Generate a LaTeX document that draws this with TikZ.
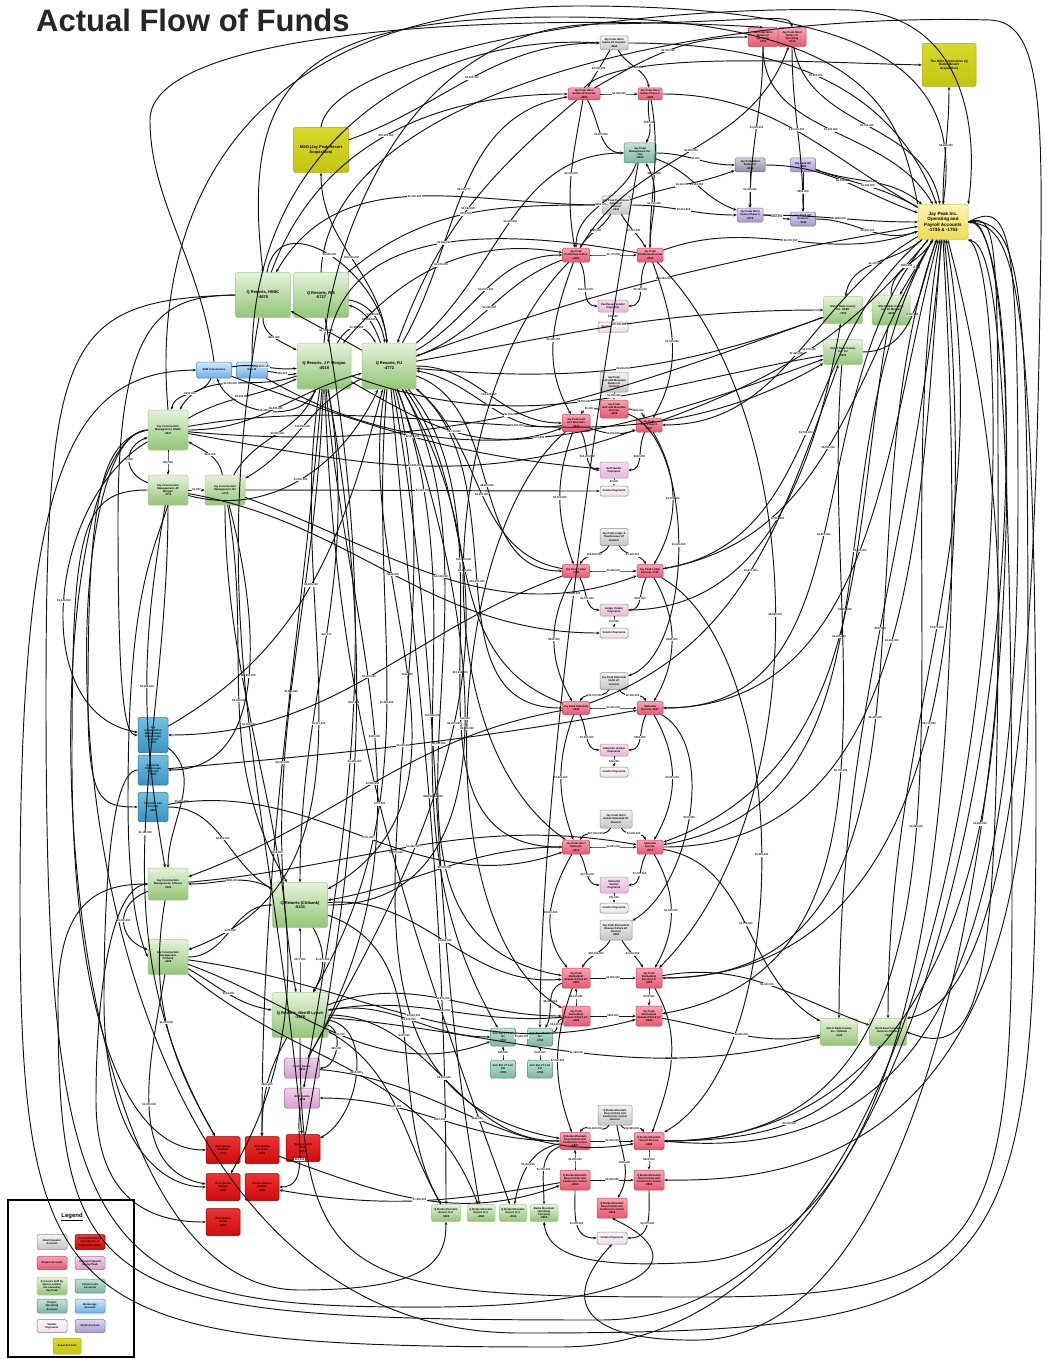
\documentclass[tikz,border=0pt]{standalone}
\usepackage{fontspec}
\setmainfont{Liberation Sans}
\usetikzlibrary{arrows.meta}
\definecolor{gT}{HTML}{E4F2DA}\definecolor{gB}{HTML}{93C576}\definecolor{gD}{HTML}{A8C896}
\definecolor{yT}{HTML}{D8D82C}\definecolor{yB}{HTML}{C4C414}\definecolor{yD}{HTML}{A8A820}
\definecolor{jT}{HTML}{FBF4B4}\definecolor{jB}{HTML}{EFDB52}\definecolor{jD}{HTML}{D8C850}
\definecolor{pT}{HTML}{F7A4B4}\definecolor{pB}{HTML}{E9566F}\definecolor{pD}{HTML}{C04058}
\definecolor{lpT}{HTML}{F6DDF0}\definecolor{lpB}{HTML}{E6B8DC}\definecolor{lpD}{HTML}{B088A8}
\definecolor{vT}{HTML}{FBF6FB}\definecolor{vB}{HTML}{EDE0EE}\definecolor{vD}{HTML}{8A7A8A}
\definecolor{grT}{HTML}{F2F2F2}\definecolor{grB}{HTML}{C6C6C6}\definecolor{grD}{HTML}{909090}
\definecolor{puT}{HTML}{DED6F0}\definecolor{puB}{HTML}{A898D0}\definecolor{puD}{HTML}{7E70A8}
\definecolor{pgT}{HTML}{D0D0DA}\definecolor{pgB}{HTML}{8C8CA2}\definecolor{pgD}{HTML}{6C6C80}
\definecolor{tT}{HTML}{C4E2DA}\definecolor{tB}{HTML}{7DB6A6}\definecolor{tD}{HTML}{558C7C}
\definecolor{bT}{HTML}{D4E9FC}\definecolor{bB}{HTML}{6CAEEA}\definecolor{bD}{HTML}{4A88C8}
\definecolor{lbT}{HTML}{70C0E2}\definecolor{lbB}{HTML}{3A94C2}\definecolor{lbD}{HTML}{2A6C90}
\definecolor{rT}{HTML}{F03232}\definecolor{rB}{HTML}{D00A0A}\definecolor{rD}{HTML}{8C0000}
\definecolor{liT}{HTML}{EFD0EA}\definecolor{liB}{HTML}{D6A0CE}\definecolor{liD}{HTML}{A070A0}
\newcommand\flowE[6][]{\draw[flow,#1] (#2) to[out=#4,in=#5] node[lbl]{#6} (#3);}
\begin{document}
\begin{tikzpicture}[x=1pt,y=1pt,
 flow/.style={line width=0.95pt,black!92,-{Stealth[length=3.4pt,width=2.8pt]}},
 lbl/.style={font=\fontsize{2.7}{3}\selectfont\bfseries,fill=white,inner sep=0.4pt},
 bx/.style={rounded corners=1.5pt,align=center,inner sep=0.6pt,line width=0.5pt,font=\fontsize{2.7}{3.1}\selectfont\bfseries},
 big/.style={font=\fontsize{4}{4.8}\selectfont\bfseries},
 mid/.style={font=\fontsize{3.2}{3.8}\selectfont\bfseries},
 sz/.style 2 args={minimum width=#1pt,minimum height=#2pt},
 grn/.style={bx,top color=gT,bottom color=gB,draw=gD},
 yel/.style={bx,top color=yT,bottom color=yB,draw=yD},
 jpy/.style={bx,top color=jT,bottom color=jB,draw=jD},
 pnk/.style={bx,top color=pT,bottom color=pB,draw=pD},
 lpk/.style={bx,top color=lpT,bottom color=lpB,draw=lpD},
 vnd/.style={bx,top color=vT,bottom color=vB,draw=vD},
 gry/.style={bx,top color=grT,bottom color=grB,draw=grD},
 pur/.style={bx,top color=puT,bottom color=puB,draw=puD},
 pgr/.style={bx,top color=pgT,bottom color=pgB,draw=pgD},
 tea/.style={bx,top color=tT,bottom color=tB,draw=tD},
 blu/.style={bx,top color=bT,bottom color=bB,draw=bD},
 lbl2/.style={bx,top color=lbT,bottom color=lbB,draw=lbD},
 red/.style={bx,top color=rT,bottom color=rB,draw=rD},
 lil/.style={bx,top color=liT,bottom color=liB,draw=liD}]
\fill[white] (0,0) rectangle (1048,-1359);
\useasboundingbox (0,0) rectangle (1048,-1359);
\node[anchor=north west,inner sep=0pt,text=black!85,font=\fontsize{31}{33}\selectfont\bfseries] (title) at (36,-9) {Actual Flow of Funds};
% ---------- top-left green / yellow
\node[yel,big,sz={55}{45}] (mso) at (321,-150) {MSO (Jay Peak Resort\\Acquisition)};
\node[yel,mid,sz={54}{43}] (mine) at (949,-65) {The Mine Corporation (Q\\Burke Resort\\Acquisition)};
\node[jpy,font=\fontsize{4.6}{5.4}\selectfont\bfseries,sz={50}{35}] (jpi) at (943,-222) {Jay Peak Inc.\\Operating and\\Payroll Accounts\\-1735 \& -1753};
\node[grn,big,sz={55}{45}] (hsbc) at (263,-295) {Q Resorts, HSBC\\-4875};
\node[grn,big,sz={55}{45}] (rs) at (321,-295) {Q Resorts, R/S\\-5727};
\node[grn,big,sz={54}{46}] (jpm) at (324,-366) {Q Resorts, J P Morgan\\-4519};
\node[grn,big,sz={54}{46}] (rj) at (389,-366) {Q Resorts, RJ\\-4772};
\node[blu,sz={35}{16}] (bl1) at (214,-370) {SSM Conversions};
\node[blu,sz={31}{16}] (bl2) at (252,-370) {Raw M};
\node[grn,sz={40}{40}] (jc1) at (168,-430) {Jay Construction\\Management, HSBC\\-8837};
\node[grn,sz={40}{30}] (jc2) at (168,-490) {Jay Construction\\Management, JP\\Morgan\\-4776};
\node[grn,sz={40}{30}] (jc3) at (225,-490) {Jay Construction\\Management, RJ\\-1778};
\node[grn,sz={39}{27}] (vs1) at (843,-310) {GSI of Dade County\\Inc. HSBC\\-7920};
\node[grn,sz={38}{30}] (vs2) at (891,-310) {GSI of Dade County\\Inc. JP Morgan\\-4846};
\node[grn,sz={39}{25}] (vs3) at (843,-352) {GSI of Dade County\\Inc. RJ\\-3593};
% ---------- top project cluster
\node[gry,sz={28}{14}] (t1) at (614,-43) {Jay Peak Hotel\\Suites LP Investor\\-4243};
\node[pnk,sz={30}{19}] (t2) at (763,-37) {Jay Peak Hotel\\Suites LP\\Operating\\-8700};
\node[pnk,sz={28}{19}] (t3) at (792,-37) {Jay Peak Hotel\\Suites LP\\Operating\\-8718};
\node[pnk,sz={32}{12}] (t4) at (584,-94) {Jay Peak Hotel\\Suites LP Escrow\\-4403};
\node[pnk,sz={24}{12}] (t5) at (650,-94) {Jay Peak Hotel\\Suites Phase II\\-4408};
\node[tea,sz={32}{20}] (t6) at (640,-153) {Jay Peak\\Management Inc.\\-4xx\\-6001};
\node[pgr,sz={30}{14}] (t7) at (750,-165) {Jay Peak Hotel\\Suites LP\\-4719};
\node[pur,sz={25}{14}] (t8) at (803,-165) {Jay Peak GP\\-3394};
\node[gry,sz={28}{18}] (t9) at (616,-205) {Jay Peak Penthouse\\Suites LP\\Investor\\-2241};
\node[pur,sz={26}{14}] (t10) at (750,-215) {Jay Peak Hotel\\Suites Phase II\\-2176};
\node[pur,sz={25}{14}] (t11) at (803,-219) {Jay Peak GP\\Services\\-3311};
\node[pnk,sz={27}{14}] (t12) at (576,-255) {Jay Peak\\Penthouse Suites\\-8201};
\node[pnk,sz={26}{14}] (t13) at (650,-255) {Jay Peak\\Penthouse Escrow\\-8203};
\node[lpk,sz={30}{12}] (t14) at (613,-306) {Penthouse Vendor\\Payments};
\node[vnd,sz={30}{10}] (t15) at (613,-327) {Vendor Payments};
\node[gry,sz={28}{20}] (a0) at (614,-382) {Jay Peak\\Golf and Mountain\\Suites LP\\Investor};
\node[pnk,sz={28}{18}] (a1) at (614,-409) {Jay Peak\\Golf and Mountain\\Escrow\\-4428};
\node[pnk,sz={28}{17}] (a2) at (576,-423) {Jay Peak Golf\\and Mountain\\-9226};
\node[pnk,sz={26}{14}] (a3) at (649,-425) {Jay Peak\\Golf Phase II\\-9227};
\node[lpk,sz={28}{16}] (a4) at (614,-470) {Golf Vendor\\Payments};
\node[vnd,sz={28}{10}] (a5) at (614,-491) {Vendor Payments};
\node[gry,sz={28}{17}] (b0) at (614,-537) {Jay Peak Lodge \&\\Townhouses LP\\Investor};
\node[pnk,sz={27}{13}] (b1) at (576,-571) {Jay Peak Lodge\\-7730};
\node[pnk,sz={26}{13}] (b2) at (650,-571) {Jay Peak Lodge\\Escrow -7731};
\node[lpk,sz={28}{12}] (b3) at (614,-610) {Lodge Vendor\\Payments};
\node[vnd,sz={28}{10}] (b4) at (614,-633) {Vendor Payments};
\node[gry,sz={28}{17}] (c0) at (614,-681) {Jay Peak Stateside\\Hotel LP\\Investor};
\node[pnk,sz={27}{13}] (c1) at (576,-708) {Jay Peak Stateside\\-5546};
\node[pnk,sz={26}{13}] (c2) at (650,-708) {Stateside\\Escrow -5547};
\node[lpk,sz={28}{12}] (c3) at (614,-750) {Stateside Vendor\\Payments};
\node[vnd,sz={28}{10}] (c4) at (614,-772) {Vendor Payments};
\node[gry,sz={32}{18}] (d0) at (616,-819) {Jay Peak Hotel\\Suites Stateside LP\\Investor};
\node[pnk,sz={27}{14}] (d1) at (576,-847) {Jay Peak Hotel\\Stateside\\-6612};
\node[pnk,sz={26}{14}] (d2) at (650,-847) {Stateside\\Escrow\\-6613};
\node[lpk,sz={28}{16}] (d3) at (614,-885) {Stateside\\Vendor\\Payments};
\node[vnd,sz={28}{10}] (d4) at (614,-908) {Vendor Payments};
\node[gry,sz={32}{20}] (e0) at (616,-930) {Jay Peak Biomedical\\Research Park LP\\Investor\\-9281};
\node[pnk,sz={28}{20}] (e1) at (576,-978) {Jay Peak\\Biomedical\\Research Park LP\\-9282};
\node[pnk,sz={26}{20}] (e2) at (649,-978) {Jay Peak\\Biomedical\\Escrow LP\\-9283};
\node[pnk,sz={28}{20}] (e3) at (576,-1016) {Jay Peak\\Biomedical\\Research Park LP\\-9284};
\node[pnk,sz={26}{20}] (e4) at (649,-1016) {Jay Peak\\Biomedical\\Research Park LP\\-9285};
\node[tea,sz={25}{18}] (f1) at (503,-1037) {AnC Bio VT LLC\\RJ\\-0767};
\node[tea,sz={25}{18}] (f2) at (540,-1037) {AnC Bio VT LLC\\RJ\\-0768};
\node[tea,sz={25}{18}] (f3) at (503,-1069) {AnC Bio VT LLC\\Citi\\-0781};
\node[tea,sz={25}{18}] (f4) at (540,-1069) {AnC Bio VT LLC\\Citi\\-0782};
\node[gry,sz={34}{20}] (g0) at (615,-1115) {Q Burke Mountain\\Resort Hotel and\\Conference Center\\Investor};
\node[pnk,sz={30}{17}] (g1) at (575,-1141) {Q Burke Mountain\\Resort Hotel and\\Conference Center\\-0807};
\node[pnk,sz={30}{17}] (g2) at (649,-1141) {Q Burke Mountain\\Resort Escrow\\-0808};
\node[pnk,sz={30}{20}] (g3) at (575,-1180) {Q Burke Mountain\\Resort Hotel and\\Conference Center\\-0814};
\node[pnk,sz={30}{20}] (g4) at (649,-1180) {Q Burke Mountain\\Resort Hotel and\\Conference Center\\-0815};
\node[pnk,sz={30}{20}] (g5) at (612,-1208) {Q Burke Mountain\\Resort Hotel and\\Conference Center\\-0816};
\node[vnd,sz={30}{12}] (g6) at (612,-1238) {Vendor Payments};
\node[grn,sz={29}{17}] (h1) at (446,-1213) {Q Burke Mountain\\Resort LLC\\-9482};
\node[grn,sz={28}{17}] (h2) at (481,-1213) {Q Burke Mountain\\Resort LLC\\-4466};
\node[grn,sz={27}{17}] (h3) at (513,-1213) {Q Burke Mountain\\Resort LLC\\-8119};
\node[grn,sz={28}{17}] (h4) at (544,-1213) {Burke Mountain\\Operating\\Company\\-8055};
\node[grn,sz={37}{27}] (r1) at (839,-1032) {GSI of Dade County\\Inc. Citibank\\-1428};
\node[grn,sz={37}{27}] (r2) at (888,-1032) {North East Contract\\Services Citibank\\-7427};
% ---------- left
\node[lbl2,sz={30}{35}] (lb1) at (153,-735) {Jay\\Construction\\Management\\Citizen Loan\\Account\\-4921};
\node[lbl2,sz={30}{30}] (lb2) at (153,-770) {Q Resorts\\Citizen Loan\\Account\\-5992};
\node[lbl2,sz={30}{29}] (lb3) at (153,-807) {Citibank Loan\\Account\\-4855};
\node[grn,sz={40}{32}] (jc4) at (168,-884) {Jay Construction\\Management, Citizens\\-3363};
\node[grn,sz={40}{35}] (jc5) at (168,-957) {Jay Construction\\Management,\\Citibank\\-4108};
\node[grn,big,sz={55}{45}] (qc) at (300,-905) {Q Resorts (Citibank)\\-5141};
\node[grn,big,sz={56}{45}] (ml) at (300,-1015) {Q Resorts, Merrill Lynch\\-3428};
\node[lil,sz={35}{20}] (pp1) at (302,-1068) {Leslie Quiros\\-2841};
\node[lil,sz={35}{20}] (pp2) at (302,-1098) {Ariel Quiros\\-1156};
\node[red,sz={34}{27}] (red1) at (223,-1150) {Ariel Quiros\\Personal\\-7781};
\node[red,sz={34}{27}] (red2) at (262,-1150) {Ariel Quiros\\Personal\\-0233};
\node[red,sz={34}{27}] (red3) at (303,-1148) {Quiros Family\\Trust\\-6612};
\node[red,sz={34}{27}] (red4) at (223,-1187) {Ariel Quiros\\Margin\\-5128};
\node[red,sz={34}{27}] (red5) at (262,-1187) {Quiros Related\\Entities\\-9011};
\node[red,sz={34}{27}] (red6) at (223,-1222) {Ariel Quiros\\Credit\\-4303};
% ---------- legend
\draw[line width=1.6pt] (8,-1200) rectangle (134,-1357);
\node[font=\fontsize{6}{7}\selectfont\bfseries] (legt) at (72,-1217) {\underline{Legend}};
\node[gry,sz={30}{15}] (L1) at (52,-1242) {Hotel Investor\\Account};
\node[red,sz={30}{15}] (L2) at (90,-1242) {Accounts Held by\\Ariel Quiros or\\Entities He Owns};
\node[pnk,sz={30}{13}] (L3) at (52,-1263) {Project Account};
\node[lil,sz={30}{13}] (L4) at (90,-1263) {Account Opened\\by Jay Peak};
\node[grn,sz={30}{18}] (L5) at (52,-1286) {Accounts held by\\Quiros entities\\not owned by\\Jay Peak};
\node[tea,sz={30}{14}] (L6) at (90,-1286) {Citizen Loan\\Accounts};
\node[tea,sz={30}{14}] (L7) at (52,-1306) {Project\\Operating\\Account};
\node[blu,sz={30}{14}] (L8) at (90,-1306) {Brokerage\\Account};
\node[vnd,sz={30}{13}] (L9) at (52,-1326) {Vendor\\Payments};
\node[pur,sz={30}{13}] (L10) at (90,-1326) {Stock Account};
\node[yel,sz={28}{16}] (L11) at (67,-1346) {Asset Account};
% ================= connectors =================
% periphery loops
\draw[flow] (jpi.east) .. controls (1046,-205) and (1046,-1347) .. (560,-1347) .. controls (60,-1347) and (20,-1320) .. (20,-900) .. controls (20,-470) and (70,-372) .. (bl1.west);
\draw[flow] (jc1.west) .. controls (36,-430) and (34,-1333) .. (520,-1333) .. controls (1000,-1333) and (1036,-1300) .. (1036,-800) .. controls (1036,-250) and (1010,-228) .. (jpi.east);
\draw[flow] (jpi.south east) .. controls (1022,-260) and (1024,-1320) .. (600,-1320) .. controls (100,-1320) and (58,-1300) .. (58,-1000) .. controls (58,-900) and (100,-884) .. (jc4.west);
\draw[flow] (hsbc.west) .. controls (64,-300) and (46,-340) .. (46,-700) .. controls (46,-1250) and (90,-1305) .. (400,-1307) .. controls (650,-1310) and (700,-1260) .. (g5.south);
\draw[flow] (jc1.north) .. controls (150,-200) and (250,-6) .. (580,-6) .. controls (890,-6) and (962,-80) .. (jpi.north);
\draw[flow] (jpi.north west) .. controls (900,-120) and (880,-17) .. (560,-17) .. controls (300,-17) and (240,-80) .. (hsbc.north);
\draw[flow] (bl2.north) .. controls (250,-150) and (420,-32) .. (t1.west);
\draw[flow] (jpm.north) .. controls (332,-250) and (400,-26) .. (600,-24) .. controls (760,-22) and (790,-12) .. (t3.north);
\draw[flow] (ml.south) .. controls (300,-1290) and (350,-1297) .. (700,-1297) .. controls (980,-1297) and (1012,-1250) .. (1012,-900) .. controls (1012,-300) and (990,-245) .. (jpi.south east);
\draw[flow] (jpi.east) .. controls (1000,-212) and (998,-240) .. (998,-600) .. controls (998,-1000) and (980,-1060) .. (r2.east);
\draw[flow] (jpi.east) .. controls (1026,-215) and (1028,-300) .. (1028,-700) .. controls (1028,-1150) and (800,-1182) .. (g4.east);
\draw[flow] (jpi.south) .. controls (958,-500) and (988,-1240) .. (700,-1262) .. controls (600,-1268) and (548,-1260) .. (h4.south);
\draw[flow] (jc2.west) .. controls (80,-490) and (72,-530) .. (72,-760) .. controls (72,-1000) and (120,-1150) .. (red1.west);
\draw[flow] (jc1.west) .. controls (100,-440) and (88,-500) .. (88,-700) .. controls (88,-800) and (100,-807) .. (lb3.west);
\draw[flow] (jc4.west) .. controls (110,-884) and (96,-1000) .. (96,-1100) .. controls (96,-1200) and (150,-1222) .. (red6.west);
\draw[flow] (hsbc.west) .. controls (160,-296) and (118,-320) .. (118,-520) .. controls (118,-700) and (125,-735) .. (lb1.west);
\draw[flow] (rs.north) .. controls (330,-90) and (700,-12) .. (990,-20) .. controls (1040,-22) and (1044,-100) .. (1040,-300) .. controls (1034,-700) and (1010,-1000) .. (r2.north east);
\draw[flow] (t4.north) .. controls (620,-50) and (800,-62) .. (mine.west);
\draw[flow] (jc2.south) .. controls (150,-560) and (128,-600) .. (128,-800) .. controls (128,-900) and (140,-940) .. (jc5.west);
\draw[flow] (mso.north) .. controls (330,-60) and (600,-4) .. (850,-10) .. controls (960,-14) and (980,-120) .. (jpi.north east);
\draw[flow] (bl1.north) .. controls (200,-260) and (150,-200) .. (150,-120) .. controls (150,-30) and (500,-12) .. (t2.north);
\draw[flow] (jpi.east) .. controls (1010,-200) and (1018,-230) .. (1018,-500) .. controls (1018,-900) and (960,-1170) .. (g2.east);
\draw[flow] (lb2.west) .. controls (110,-770) and (104,-900) .. (104,-1000) .. controls (104,-1140) and (160,-1187) .. (red4.west);
\draw[flow] (jc1.west) .. controls (28,-440) and (26,-1290) .. (300,-1290) .. controls (430,-1290) and (446,-1260) .. (h1.south);
\draw[flow] (jpi.east) .. controls (1040,-190) and (1042,-1330) .. (700,-1340) .. controls (580,-1342) and (560,-1300) .. (g6.south);
% top-left group
\flowE{rj}{mso}{95}{-90}{\$20,000,000}
\flowE{rs}{rj}{-10}{100}{\$4,080,000}
\flowE[looseness=1.6]{jpm}{rj}{60}{120}{\$3,985,000}
\flowE{rj}{hsbc}{150}{-30}{\$1,500,000}
\flowE[looseness=1.3]{hsbc}{rj}{80}{95}{\$8,400,000}
\flowE{bl1}{jpm}{10}{185}{\$560,000}
\flowE{bl2}{jpm}{-5}{195}{\$91,500}
\flowE{jpm}{bl1}{-110}{-70}{\$1,200,000}
\flowE{hsbc}{jpm}{-90}{150}{\$625,000}
\flowE{rj}{rs}{110}{-20}{\$2,050,000}
% left cluster
\flowE{jc1}{jc2}{-90}{90}{\$62,500}
\flowE[looseness=1.5]{jc2}{jc1}{160}{200}{\$7,000}
\flowE{jc3}{jc1}{100}{-30}{\$118,000}
\flowE{jc1}{rj}{0}{195}{\$9,830,000}
\flowE{jc1}{jpm}{30}{205}{\$2,500,000}
\flowE{jc2}{jc3}{0}{180}{\$1,250}
\flowE{rj}{jc3}{205}{30}{\$11,800,000}
\flowE{jpm}{jc1}{200}{60}{\$1,045,000}
\flowE{bl1}{jc1}{-110}{80}{\$150,000}
\flowE{jc2}{rj}{-15}{-115}{\$1,000,000}
\flowE{jc3}{jpm}{60}{-110}{\$4,000,000}
% long downward from jpm / rj
\flowE{jpm}{qc}{-80}{90}{\$20,271}
\flowE{rj}{ml}{-95}{60}{\$1,360,000}
\flowE{jpm}{ml}{-92}{100}{\$5,500,000}
\flowE{rj}{qc}{-100}{30}{\$744,000}
\flowE{jpm}{red2}{-95}{90}{\$3,000,000}
\flowE{jpm}{pp1}{-85}{60}{\$415,000}
\flowE{rj}{h1}{-85}{90}{\$860,000}
\flowE{rj}{h2}{-80}{100}{\$2,110,000}
\flowE{rj}{f1}{-70}{120}{\$10,650,000}
\flowE{rj}{e1}{-60}{170}{\$6,700,000}
\flowE{rj}{g1}{-75}{170}{\$2,700,000}
\flowE{jc2}{red1}{-90}{120}{\$1,111,000}
\flowE{jc3}{red4}{-90}{60}{\$318,000}
\flowE{jc2}{jc4}{-100}{100}{\$4,508,000}
\flowE{jc3}{qc}{-80}{120}{\$8,090,000}
\flowE{jc1}{lb1}{210}{170}{\$1,345,000}
\flowE{jc3}{lb2}{-75}{0}{\$2,950,000}
\flowE{jpm}{h3}{-88}{110}{\$777,000}
\flowE{hsbc}{red3}{-100}{95}{\$1,800,000}
\flowE{rs}{pp2}{-80}{80}{\$250,000}
\flowE{jpm}{jc5}{-100}{20}{\$3,311,000}
% rj to project column
\flowE{rj}{t12}{30}{180}{\$14,000,000}
\flowE{t12}{rj}{200}{20}{\$2,320,000}
\flowE{rj}{a2}{0}{180}{\$24,900,000}
\flowE{a2}{rj}{190}{-10}{\$6,850,000}
\flowE{rj}{b1}{-20}{180}{\$8,200,000}
\flowE{b1}{rj}{170}{-40}{\$1,900,000}
\flowE{rj}{c1}{-40}{180}{\$12,000,000}
\flowE{rj}{d1}{-50}{180}{\$13,040,000}
\flowE{c1}{rj}{160}{-55}{\$3,030,000}
\flowE{rj}{t4}{60}{190}{\$6,120,777}
\flowE{t4}{rj}{220}{70}{\$3,460,000}
\flowE{rj}{t6}{40}{180}{\$3,400,000}
\flowE{rj}{jpi}{20}{190}{\$40,200,000}
\flowE{rj}{vs1}{10}{180}{\$18,700,000}
\flowE{vs1}{rj}{200}{-5}{\$2,264,000}
\flowE{jpm}{a2}{-30}{200}{\$9,710,000}
\flowE{jpm}{t12}{50}{170}{\$1,370,000}
\flowE{jpm}{vs3}{-20}{190}{\$9,200,000}
\flowE{hsbc}{t4}{70}{180}{\$15,000,000}
\flowE{t9}{hsbc}{180}{60}{\$2,100,000}
\flowE{t13}{jpm}{170}{80}{\$5,560,000}
\flowE{rs}{t9}{40}{180}{\$750,000}
\flowE{mso}{t1}{20}{180}{\$4,200,000}
\flowE{bl2}{vs3}{-30}{200}{\$870,000}
\flowE{jc1}{a3}{-10}{200}{\$3,500,000}
\flowE{jc3}{b2}{-20}{200}{\$1,615,000}
\flowE{jc1}{vs3}{10}{-150}{\$3,250,000}
\flowE{jc1}{vs1}{-5}{200}{\$7,850,000}
\flowE{jc3}{a5}{0}{180}{\$1,020,000}
\flowE{jc2}{b4}{-10}{180}{\$640,000}
\flowE{bl1}{a4}{-20}{175}{\$2,470,000}
% jpi group
\flowE{t2}{jpi}{-90}{120}{\$1,000,000}
\flowE{t3}{jpi}{-80}{100}{\$2,700,000}
\flowE{jpi}{mine}{90}{-90}{\$6,800,000}
\flowE{t7}{jpi}{0}{160}{\$1,030,000}
\flowE{t8}{jpi}{-20}{140}{\$415,077}
\flowE{t10}{jpi}{0}{180}{\$665,000}
\flowE{t11}{jpi}{0}{200}{\$2,900,000}
\flowE{jpi}{vs2}{-120}{60}{\$3,211}
\flowE{jpi}{vs1}{-140}{80}{\$1,120,000}
\flowE{jpi}{r2}{-80}{90}{\$2,575,000}
\flowE{jpi}{r1}{-95}{90}{\$910,000}
\flowE{vs3}{jpi}{0}{-110}{\$350,000}
\flowE{t5}{jpi}{0}{150}{\$4,490,000}
\flowE{t1}{jpi}{0}{110}{\$7,450,000}
\flowE{jpi}{g2}{-100}{0}{\$2,080,000}
\flowE{jpi}{e2}{-110}{0}{\$5,400,000}
\flowE{jpi}{d2}{-120}{10}{\$1,950,000}
\flowE{jpi}{c2}{-130}{0}{\$2,800,000}
\flowE{jpi}{b2}{-140}{10}{\$3,700,000}
\flowE{jpi}{a3}{-150}{0}{\$1,300,000}
\flowE{a3}{jpi}{20}{-130}{\$3,970,000}
\flowE{b2}{jpi}{10}{-120}{\$6,011,000}
\flowE{c2}{jpi}{0}{-105}{\$4,480,000}
\flowE{d2}{jpi}{0}{-95}{\$2,240,000}
\flowE{e2}{jpi}{0}{-85}{\$8,115,000}
\flowE{g2}{jpi}{0}{-75}{\$1,640,000}
\flowE{vs2}{jpi}{90}{-120}{\$506,000}
\flowE{t13}{jpi}{20}{200}{\$9,050,000}
\flowE{jpi}{t8}{150}{-20}{\$1,000,000}
% top cluster internal
\flowE{t1}{t4}{-120}{60}{\$2,000,000}
\flowE{t1}{t5}{-60}{100}{\$17,800,000}
\flowE{t4}{t5}{0}{180}{\$4,350,000}
\flowE{t4}{t6}{-60}{180}{\$3,800,000}
\flowE{t5}{t6}{-100}{60}{\$590,000}
\flowE{t4}{t12}{-100}{100}{\$2,250,000}
\flowE{t5}{t13}{-80}{90}{\$1,150,000}
\flowE{t9}{t12}{-120}{60}{\$960,000}
\flowE{t9}{t13}{-60}{120}{\$3,720,000}
\flowE{t9}{t10}{0}{180}{\$2,413,000}
\flowE{t6}{t7}{0}{180}{\$5,000}
\flowE{t12}{t14}{-60}{180}{\$12,930,000}
\flowE{t13}{t14}{-120}{0}{\$2,330,000}
\flowE{t12}{t13}{0}{180}{\$1,770,000}
\flowE{t2}{t10}{-90}{90}{\$1,000,000}
\flowE{t3}{t11}{-90}{90}{\$3,000,000}
\flowE{t7}{t10}{-90}{90}{\$1,400,000}
\flowE{t8}{t11}{-90}{90}{\$820,000}
\flowE{t10}{t11}{0}{180}{\$310,000}
\flowE{t6}{t12}{-110}{90}{\$650,000}
\flowE{t13}{t6}{90}{-60}{\$2,010,000}
\flowE{t4}{t2}{30}{180}{\$4,000,000}
\flowE{t12}{t3}{60}{-110}{\$2,600,000}
\flowE{t14}{t15}{-90}{90}{\$40,000}
\flowE{t6}{t10}{-20}{160}{\$3,315,000}
\flowE{t9}{t7}{20}{200}{\$4,113,000}
% project clusters
\flowE{a0}{a1}{-90}{90}{\$1,060,000}
\flowE{a1}{a2}{180}{60}{\$1,000}
\flowE{a1}{a3}{0}{120}{\$500,000}
\flowE{a2}{a4}{-60}{180}{\$15,000,000}
\flowE{a3}{a4}{-120}{0}{\$640,000}
\flowE{a4}{a5}{-90}{90}{\$9,000}
\flowE{a2}{a3}{-20}{200}{\$1,260,000}
\flowE{t13}{a3}{-70}{60}{\$2,460,000}
\flowE{t12}{a2}{-110}{120}{\$3,440,000}
\flowE{b0}{b1}{-120}{60}{\$21,600,000}
\flowE{b0}{b2}{-60}{120}{\$3,120,000}
\flowE{b1}{b2}{0}{180}{\$1,600,000}
\flowE{b1}{b3}{-60}{180}{\$6,570,000}
\flowE{b2}{b3}{-120}{0}{\$550,000}
\flowE{b3}{b4}{-90}{90}{\$13,000}
\flowE{c0}{c1}{-120}{60}{\$33,700,000}
\flowE{c0}{c2}{-60}{120}{\$2,100,000}
\flowE{c1}{c2}{0}{180}{\$4,410,000}
\flowE{c1}{c3}{-60}{180}{\$7,250,000}
\flowE{c2}{c3}{-120}{0}{\$800,000}
\flowE{c3}{c4}{-90}{90}{\$22,000}
\flowE{d0}{d1}{-120}{60}{\$67,500,000}
\flowE{d0}{d2}{-60}{120}{\$3,300,000}
\flowE{d1}{d2}{0}{180}{\$2,850,000}
\flowE{d1}{d3}{-60}{180}{\$9,720,000}
\flowE{d2}{d3}{-120}{0}{\$1,070,000}
\flowE{d3}{d4}{-90}{90}{\$31,000}
\flowE{e0}{e1}{-120}{60}{\$82,000,000}
\flowE{e0}{e2}{-60}{120}{\$1,650,000}
\flowE{e1}{e2}{0}{180}{\$4,800,000}
\flowE{e3}{e1}{90}{-90}{\$2,610,000}
\flowE{e3}{e4}{0}{180}{\$960,000}
\flowE{e2}{e4}{-90}{90}{\$730,000}
\flowE{e1}{f2}{200}{60}{\$6,420,000}
\flowE{f1}{f2}{0}{180}{\$1,555,000}
\flowE{f3}{f1}{90}{-90}{\$25,000}
\flowE{f4}{f2}{90}{-90}{\$140,000}
\flowE{e3}{f2}{190}{20}{\$3,190,000}
\flowE{g0}{g1}{-120}{60}{\$11,890,000}
\flowE{g0}{g2}{-60}{120}{\$2,980,000}
\flowE{g1}{g2}{0}{180}{\$1,065,000}
\flowE{g3}{g1}{90}{-90}{\$5,260,000}
\flowE{g3}{g4}{0}{180}{\$2,040,000}
\flowE[looseness=1.2]{g3}{g6}{-90}{180}{\$1,200,000}
\flowE[looseness=1.2]{g4}{g6}{-90}{0}{\$4,370,000}
\flowE{g1}{h4}{200}{90}{\$1,760,000}
\flowE{g1}{h3}{190}{80}{\$3,300,000}
\flowE{g0}{g5}{-80}{60}{\$245,000}
\flowE{g2}{g4}{-90}{90}{\$610,000}
% long verticals between clusters
\flowE{a2}{b1}{-110}{110}{\$2,150,000}
\flowE{b1}{c1}{-120}{120}{\$840,000}
\flowE{c1}{d1}{-110}{110}{\$3,660,000}
\flowE{d1}{e1}{-120}{130}{\$9,510,000}
\flowE{e1}{g1}{-110}{110}{\$7,040,000}
\flowE{a3}{b2}{-60}{60}{\$1,010,000}
\flowE{b2}{c2}{-60}{60}{\$480,000}
\flowE{c2}{d2}{-60}{60}{\$2,900,000}
\flowE{d2}{e2}{-60}{60}{\$1,420,000}
\flowE{e2}{g2}{-60}{70}{\$630,000}
\flowE[looseness=0.8]{t12}{d1}{-135}{145}{\$13,500,000}
\flowE[looseness=0.8]{t13}{e2}{-45}{45}{\$5,830,000}
\flowE[looseness=0.7]{t6}{f2}{-100}{90}{\$3,580,000}
\flowE[looseness=0.7]{a2}{e3}{-140}{150}{\$2,750,000}
\flowE[looseness=0.7]{b2}{g2}{-30}{30}{\$1,880,000}
\flowE[looseness=0.7]{a1}{c0}{-20}{20}{\$1,220,000}
\flowE[looseness=0.8]{c2}{e0}{-30}{30}{\$700,000}
\flowE{b3}{vs1}{0}{-100}{\$2,330,000}
\flowE{c1}{vs3}{20}{-110}{\$1,470,000}
\flowE{d2}{r1}{-10}{150}{\$4,700,000}
\flowE{e4}{r1}{-10}{190}{\$2,200,000}
\flowE{g2}{r2}{0}{-120}{\$1,910,000}
\flowE{e2}{r2}{10}{160}{\$3,010,000}
\flowE{vs2}{d2}{-100}{20}{\$1,335,000}
\flowE{vs3}{e4}{-95}{10}{\$2,740,000}
% left lower group
\flowE[looseness=1.5]{jc4}{jc5}{200}{160}{\$4,000,000}
\flowE{jc5}{qc}{0}{180}{\$471,000}
\flowE{qc}{jc4}{150}{0}{\$254,000}
\flowE{jc5}{ml}{-30}{170}{\$544,000}
\flowE{ml}{qc}{90}{-90}{\$277,000}
\flowE{jc5}{red4}{-100}{170}{\$1,080,000}
\flowE{ml}{pp1}{-20}{0}{\$65,000}
\flowE{ml}{red3}{-10}{30}{\$2,020,000}
\flowE{pp2}{red5}{-100}{0}{\$18,000}
\flowE{ml}{red2}{-120}{90}{\$835,000}
\flowE{jc4}{red1}{-100}{120}{\$1,300,000}
\flowE{qc}{rj}{0}{-70}{\$14,000}
\flowE{qc}{h1}{-20}{120}{\$760,000}
\flowE{ml}{g1}{0}{180}{\$3,850,000}
\flowE{ml}{f1}{10}{180}{\$1,700,000}
\flowE{ml}{e3}{20}{180}{\$8,870,000}
\flowE{jc5}{f1}{-20}{200}{\$910,000}
\flowE{e3}{ml}{185}{10}{\$690,000}
\flowE{lb1}{jc4}{-40}{90}{\$5,200,000}
\flowE{lb3}{qc}{0}{150}{\$2,200,000}
\flowE{qc}{ml}{-60}{60}{\$1,275,000}
\flowE{d1}{qc}{180}{10}{\$6,100,000}
\flowE{c1}{jc4}{190}{20}{\$2,950,000}
\flowE{b1}{lb1}{200}{0}{\$3,400,000}
\flowE{g3}{red5}{190}{-10}{\$1,560,000}
\flowE{g1}{pp2}{180}{0}{\$910,000}
\flowE{h1}{ml}{120}{-30}{\$260,000}
\flowE{jc5}{h2}{-40}{110}{\$330,000}
\flowE{pp1}{rj}{60}{-60}{\$2,500,000}
\flowE{red3}{jpm}{80}{-80}{\$1,100,000}
\flowE{qc}{e1}{5}{185}{\$4,030,000}
\flowE{ml}{r1}{-5}{195}{\$1,165,000}
\flowE{jc4}{d2}{5}{170}{\$2,890,000}
\flowE{lb2}{c2}{5}{190}{\$5,120,000}
\flowE{lb3}{d1}{10}{200}{\$770,000}
\flowE{jc5}{e4}{-8}{195}{\$3,615,000}
\flowE{red2}{g3}{-20}{200}{\$1,480,000}
\flowE{pp1}{g2}{-5}{190}{\$620,000}
\flowE{lb1}{rj}{30}{-105}{\$9,900,000}
\end{tikzpicture}
\end{document}
